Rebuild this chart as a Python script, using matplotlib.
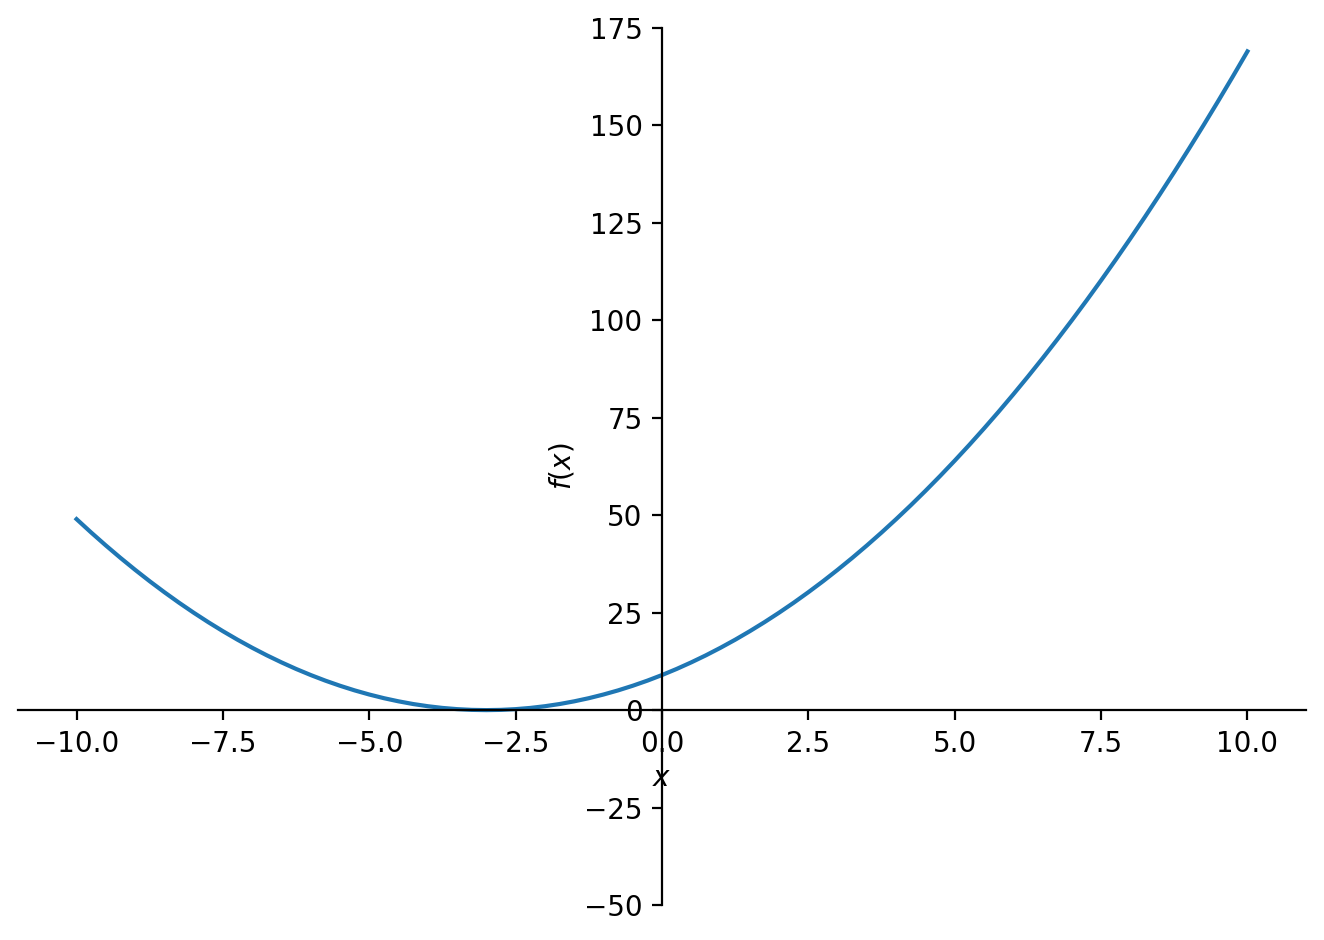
import matplotlib
matplotlib.use("Agg")
import matplotlib.pyplot as plt

x_values = [-10.0, -9.75, -9.5, -9.25, -9.0, -8.75, -8.5, -8.25, -8.0, -7.75,
            -7.5, -7.25, -7.0, -6.75, -6.5, -6.25, -6.0, -5.75, -5.5, -5.25,
            -5.0, -4.75, -4.5, -4.25, -4.0, -3.75, -3.5, -3.25, -3.0, -2.75,
            -2.5, -2.25, -2.0, -1.75, -1.5, -1.25, -1.0, -0.75, -0.5, -0.25,
            0.0, 0.25, 0.5, 0.75, 1.0, 1.25, 1.5, 1.75, 2.0, 2.25,
            2.5, 2.75, 3.0, 3.25, 3.5, 3.75, 4.0, 4.25, 4.5, 4.75,
            5.0, 5.25, 5.5, 5.75, 6.0, 6.25, 6.5, 6.75, 7.0, 7.25,
            7.5, 7.75, 8.0, 8.25, 8.5, 8.75, 9.0, 9.25, 9.5, 9.75, 10.0]
y_values = [49.0, 45.56, 42.25, 39.06, 36.0, 33.06, 30.25, 27.56, 25.0, 22.56,
            20.25, 18.06, 16.0, 14.06, 12.25, 10.56, 9.0, 7.56, 6.25, 5.06,
            4.0, 3.06, 2.25, 1.56, 1.0, 0.56, 0.25, 0.06, 0.0, 0.06,
            0.25, 0.56, 1.0, 1.56, 2.25, 3.06, 4.0, 5.06, 6.25, 7.56,
            9.0, 10.56, 12.25, 14.06, 16.0, 18.06, 20.25, 22.56, 25.0, 27.56,
            30.25, 33.06, 36.0, 39.06, 42.25, 45.56, 49.0, 52.56, 56.25, 60.06,
            64.0, 68.06, 72.25, 76.56, 81.0, 85.56, 90.25, 95.06, 100.0, 105.06,
            110.25, 115.56, 121.0, 126.56, 132.25, 138.06, 144.0, 150.06, 156.25, 162.56, 169.0]

fig = plt.figure(figsize=(6.62, 4.7), dpi=200)
ax = fig.add_axes([18/1324, 1-905/940, (1306-18)/1324, (905-28)/940])
ax.plot(x_values, y_values, color="#1f77b4", linewidth=1.5)
ax.set_xlim(-11, 11)
ax.set_ylim(-50, 175)
ax.spines["left"].set_position(("data", 0))
ax.spines["bottom"].set_position(("data", 0))
ax.spines["right"].set_visible(False)
ax.spines["top"].set_visible(False)
ax.set_xlabel("$x$", labelpad=2.5)
ax.set_ylabel("$f{\\left(x \\right)}$", labelpad=2.5)
fig.savefig("out.png", dpi=200)
